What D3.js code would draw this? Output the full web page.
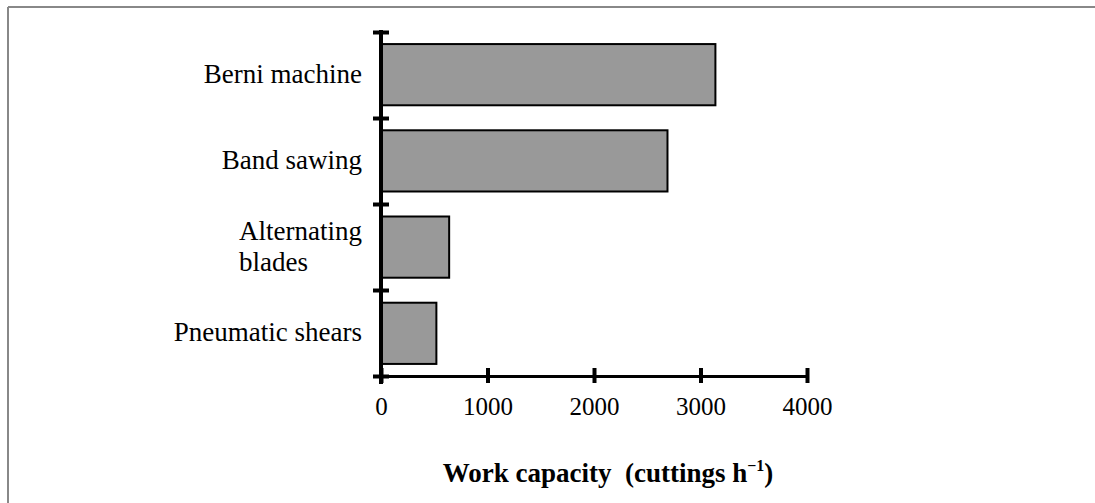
<!DOCTYPE html>
<html>
<head>
<meta charset="utf-8">
<script src="https://cdn.jsdelivr.net/npm/d3@7"></script>
<style>
  body { margin: 0; background: #fff; }
  svg { display: block; font-family: "Liberation Serif", "Times New Roman", serif; }
</style>
</head>
<body>
<svg width="1095" height="503"></svg>
<script>
const categories = ["Berni machine", "Band sawing", "Alternating blades", "Pneumatic shears"];
const values = [3140, 2690, 640, 520];
const xTicks = [0, 1000, 2000, 3000, 4000];

const svg = d3.select("svg");

// grey frame (top + left only)
svg.append("line").attr("x1", 8).attr("x2", 1095).attr("y1", 7).attr("y2", 7)
  .attr("stroke", "#888").attr("stroke-width", 2);
svg.append("line").attr("x1", 8).attr("x2", 8).attr("y1", 7).attr("y2", 503)
  .attr("stroke", "#888").attr("stroke-width", 2);

const x = d3.scaleLinear().domain([0, 4000]).range([381, 807]);
const y = d3.scaleBand().domain(categories).range([32, 376])
  .paddingInner(0.29).paddingOuter(0.14);
const yEdge = d3.scaleLinear().domain([0, categories.length]).range([32, 376]);

// bars
svg.append("g")
  .selectAll("rect")
  .data(categories)
  .enter()
  .append("rect")
  .attr("x", x(0))
  .attr("y", d => y(d))
  .attr("width", (d, i) => x(values[i]) - x(0))
  .attr("height", y.bandwidth())
  .attr("fill", "#999999")
  .attr("stroke", "#000")
  .attr("stroke-width", 2);

// x axis
const xAxis = svg.append("g")
  .attr("transform", "translate(0,376)")
  .call(d3.axisBottom(x).tickValues(xTicks).tickSize(0).tickFormat(d3.format("d")));
xAxis.select(".domain").attr("stroke-width", 3).attr("stroke", "#000");
xAxis.selectAll(".tick line").attr("y1", -8).attr("y2", 7).attr("stroke-width", 4).attr("stroke", "#000");
xAxis.selectAll(".tick text")
  .attr("font-size", 25).attr("font-family", "Liberation Serif, Times New Roman, serif")
  .attr("fill", "#000").attr("dy", 0).attr("y", 39);

// y axis (ticks at category boundaries)
const yAxis = svg.append("g")
  .attr("transform", "translate(381,0)")
  .call(d3.axisLeft(yEdge).tickValues(d3.range(categories.length + 1)).tickSize(0).tickFormat(""));
yAxis.select(".domain").attr("stroke-width", 4).attr("stroke", "#000")
  .attr("d", "M0,30V384");
yAxis.selectAll(".tick line").attr("x1", -8).attr("x2", 8).attr("stroke-width", 4).attr("stroke", "#000");

// category labels
const labelRight = 362;
const labelSize = 27;
categories.forEach(c => {
  const cy = y(c) + y.bandwidth() / 2;
  if (c === "Alternating blades") {
    const t1 = svg.append("text").attr("x", labelRight).attr("y", cy - 7)
      .attr("text-anchor", "end").attr("font-size", labelSize).text("Alternating");
    const w = t1.node().getComputedTextLength();
    svg.append("text").attr("x", labelRight - w).attr("y", cy + 24)
      .attr("font-size", labelSize).text("blades");
  } else {
    svg.append("text").attr("x", labelRight).attr("y", cy + 8)
      .attr("text-anchor", "end").attr("font-size", labelSize).text(c);
  }
});

// axis title
const title = svg.append("text")
  .attr("x", 608).attr("y", 482)
  .attr("text-anchor", "middle")
  .attr("font-size", 27).attr("font-weight", "bold")
  .style("white-space", "pre");
title.append("tspan").text("Work capacity  (cuttings h");
title.append("tspan").attr("font-size", 16).attr("dy", -11).text("\u22121");
title.append("tspan").attr("dy", 11).text(")");
</script>
</body>
</html>
